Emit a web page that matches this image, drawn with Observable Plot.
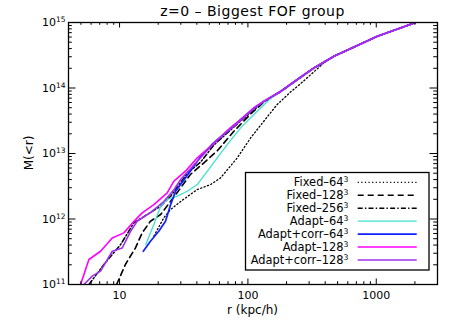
<!DOCTYPE html>
<html><head><meta charset="utf-8">
<script src="https://cdn.jsdelivr.net/npm/d3@7"></script>
<script src="https://cdn.jsdelivr.net/npm/@observablehq/plot@0.6"></script>
<style>html,body{margin:0;padding:0;background:#fff;}</style>
</head><body><div id="chart"></div>
<script>
// ---- text ----
const titleText = "z=0 – Biggest FOF group";
const xLabelText = "r (kpc/h)";
const yLabelText = "M(<r)";

// ---- ticks ----
const xMajor = [10, 100, 1000];
const xTickLabels = ["10", "100", "1000"];
const yMajor = [1e11, 1e12, 1e13, 1e14, 1e15];
const yTickLabels = ["10^11", "10^12", "10^13", "10^14", "10^15"];

// ---- series (r in kpc/h, M in Msun/h) ----
const fixed64R = [18.5, 22.1, 25.0, 29.9, 40.3, 51.2, 61.2, 82.6, 105, 133, 169, 215, 258, 327, 391, 468, 1020, 2000];
const fixed64M = [5.5e11, 1.04e12, 1.40e12, 1.85e12, 2.82e12, 3.36e12, 4.24e12, 8.57e12, 1.73e13, 3.11e13, 5.6e13, 8.7e13, 1.17e14, 1.77e14, 2.42e14, 3.04e14, 6.15e14, 9.9e14];

const fixed128R = [9.48, 11.1, 13.3, 15.0, 17.4, 20.9, 25.0, 29.9, 35.7, 45.4, 57.7, 78, 105, 133, 180, 258, 327, 468, 1020, 2000];
const fixed128M = [1.0e11, 2.02e11, 3.62e11, 6.14e11, 9.25e11, 1.17e12, 1.87e12, 2.98e12, 4.8e12, 7.2e12, 1.1e13, 2.2e13, 4.0e13, 6.1e13, 8.8e13, 1.46e14, 2.02e14, 3.05e14, 6.15e14, 9.9e14];

const fixed256R = [5.77, 7.55, 10.2, 12.9, 16.4, 20.9, 25.0, 33.7, 42.8, 54.3, 88, 133, 180, 258, 327, 468, 1020, 2000];
const fixed256M = [1.0e11, 2.02e11, 4.08e11, 8.71e11, 1.17e12, 1.57e12, 2.23e12, 5.0e12, 7.4e12, 1.35e13, 3.15e13, 6.2e13, 8.8e13, 1.46e14, 2.02e14, 3.05e14, 6.15e14, 9.9e14];

const adapt64R = [16.0, 18.5, 20.9, 23.5, 28.2, 33.7, 40.3, 48.3, 57.7, 69, 87.7, 118, 150, 180, 258, 327, 468, 1020, 2000];
const adapt64M = [4.08e11, 8.24e11, 1.57e12, 1.99e12, 2.23e12, 2.65e12, 3.36e12, 5.37e12, 8.57e12, 1.37e13, 2.46e13, 4.42e13, 6.9e13, 8.8e13, 1.46e14, 2.02e14, 3.05e14, 6.15e14, 9.9e14];

const adaptCorr64R = [15.3, 17.4, 20.2, 22.8, 25.0, 27.3, 32.6, 42, 53, 78, 111, 133, 180, 258, 327, 468, 1020, 2000];
const adaptCorr64M = [3.22e11, 4.58e11, 6.51e11, 9.25e11, 1.66e12, 2.65e12, 4.24e12, 8.5e12, 1.4e13, 2.7e13, 4.9e13, 6.25e13, 8.9e13, 1.47e14, 2.03e14, 3.06e14, 6.18e14, 9.9e14];

const adapt128R = [4.97, 5.77, 7.11, 8.77, 10.8, 12.6, 15.0, 18.5, 23.5, 26.5, 32.6, 40.3, 55, 73, 88, 111, 133, 180, 258, 327, 468, 1020, 2000];
const adapt128M = [1.0e11, 2.41e11, 3.22e11, 5.14e11, 6.14e11, 8.71e11, 1.24e12, 1.66e12, 2.5e12, 3.78e12, 5.37e12, 8.6e12, 1.45e13, 2.46e13, 3.3e13, 4.97e13, 6.3e13, 8.9e13, 1.47e14, 2.03e14, 3.06e14, 6.18e14, 9.9e14];

const adaptCorr128R = [5.27, 6.12, 7.11, 8.77, 10.5, 12.2, 13.7, 17.4, 22.1, 26.5, 29.9, 40.3, 54.3, 88, 111, 133, 180, 258, 327, 468, 1020, 2000];
const adaptCorr128M = [1.0e11, 1.34e11, 1.6e11, 3.22e11, 3.62e11, 6.51e11, 9.25e11, 1.25e12, 1.85e12, 2.8e12, 4.0e12, 7.6e12, 1.45e13, 3.2e13, 4.85e13, 6.2e13, 8.8e13, 1.46e14, 2.02e14, 3.05e14, 6.15e14, 9.9e14];

const seriesNames = ["Fixed–64^3", "Fixed–128^3", "Fixed–256^3", "Adapt–64^3", "Adapt+corr–64^3", "Adapt–128^3", "Adapt+corr–128^3"];

const series = [
  {name: seriesNames[0], r: fixed64R, M: fixed64M, color: "#000", dash: "1.2,2.4", w: 1.3},
  {name: seriesNames[1], r: fixed128R, M: fixed128M, color: "#000", dash: "6,4", w: 1.6},
  {name: seriesNames[2], r: fixed256R, M: fixed256M, color: "#000", dash: "5,2.2,1.4,2.2", w: 1.5},
  {name: seriesNames[3], r: adapt64R, M: adapt64M, color: "#40e0d0", dash: null, w: 1.3},
  {name: seriesNames[4], r: adaptCorr64R, M: adaptCorr64M, color: "#1020ff", dash: null, w: 1.7},
  {name: seriesNames[5], r: adapt128R, M: adapt128M, color: "#ff00ff", dash: null, w: 1.6},
  {name: seriesNames[6], r: adaptCorr128R, M: adaptCorr128M, color: "#a030f0", dash: null, w: 1.6}
];

// minor ticks
const xMinor = [];
for (const d of [1, 10, 100, 1000]) for (let k = 2; k <= 9; k++) { const v = d * k; if (v > 4 && v < 3000 && !xMajor.includes(v)) xMinor.push(v); }
const yMinor = [];
for (const d of [1e11, 1e12, 1e13, 1e14]) for (let k = 2; k <= 9; k++) yMinor.push(d * k);

const W = 458, H = 327, mL = 68, mR = 21, mT = 22, mB = 43;
const fw = W - mL - mR, fh = H - mT - mB;
const xMaj = 5.5, xMin = 2.8, yMaj = 7.5, yMin = 3.8;

const lineMarks = series.map(s => Plot.line(s.r.map((r, i) => ({r, M: s.M[i]})), {
  x: "r", y: "M", stroke: s.color, strokeWidth: s.w, strokeDasharray: s.dash, clip: true
}));

const svg = Plot.plot({
  width: W, height: H,
  marginLeft: mL, marginRight: mR, marginTop: mT, marginBottom: mB,
  x: {type: "log", domain: [4, 3000]},
  y: {type: "log", domain: [1e11, 1e15]},
  style: {fontFamily: "DejaVu Sans", fontSize: "11px", background: "white", color: "black", overflow: "visible"},
  marks: [
    Plot.axisX(xMajor, {tickSize: 0, tickPadding: 7, tickFormat: d => xTickLabels[xMajor.indexOf(d)], label: null, fill: "black"}),
    Plot.axisY(yMajor, {tickSize: 0, tickPadding: 3, tickFormat: d => yTickLabels[yMajor.indexOf(d)], label: null, fill: "black"}),
    ...lineMarks,
    Plot.tickX(xMajor, {x: d => d, insetTop: fh - xMaj, stroke: "black"}),
    Plot.tickX(xMajor, {x: d => d, insetBottom: fh - xMaj, stroke: "black"}),
    Plot.tickX(xMinor, {x: d => d, insetTop: fh - xMin, stroke: "black"}),
    Plot.tickX(xMinor, {x: d => d, insetBottom: fh - xMin, stroke: "black"}),
    Plot.tickY(yMajor, {y: d => d, insetRight: fw - yMaj, stroke: "black"}),
    Plot.tickY(yMajor, {y: d => d, insetLeft: fw - yMaj, stroke: "black"}),
    Plot.tickY(yMinor, {y: d => d, insetRight: fw - yMin, stroke: "black"}),
    Plot.tickY(yMinor, {y: d => d, insetLeft: fw - yMin, stroke: "black"}),
    Plot.frame({stroke: "black", strokeWidth: 1.3})
  ]
});

const sv = d3.select(svg);

function supify(sel) {
  sel.each(function () {
    const t = this.textContent;
    const m = t.match(/^(.*)\^(\d+)$/);
    if (!m) return;
    const el = d3.select(this);
    el.text(null);
    el.append("tspan").text(m[1]);
    el.append("tspan").attr("dy", "-0.5em").attr("font-size", "0.68em").text(m[2]);
  });
}
supify(sv.selectAll("text"));

// title & axis labels
sv.append("text").attr("x", mL + fw / 2).attr("y", 16).attr("text-anchor", "middle")
  .attr("font-size", 14).attr("letter-spacing", "0.5px").attr("fill", "black").text(titleText);
sv.append("text").attr("x", mL + fw / 2).attr("y", 314).attr("text-anchor", "middle")
  .attr("font-size", 12).attr("fill", "black").text(xLabelText);
sv.append("text").attr("transform", `translate(33,${mT + fh / 2}) rotate(-90)`).attr("text-anchor", "middle")
  .attr("font-size", 12).attr("fill", "black").text(yLabelText);

// legend
const lg = sv.append("g").attr("font-family", "DejaVu Sans").attr("font-size", 11.4);
lg.append("rect").attr("x", 245.5).attr("y", 172.5).attr("width", 183.5).attr("height", 97.5)
  .attr("fill", "white").attr("stroke", "black").attr("stroke-width", 1.3);
series.forEach((s, i) => {
  const cy = 182.3 + i * 12.95;
  const t = lg.append("text").attr("x", 348.5).attr("y", cy + 4).attr("text-anchor", "end").attr("fill", "black").text(s.name);
  supify(t);
  lg.append("line").attr("x1", 357.7).attr("x2", 416.7).attr("y1", cy).attr("y2", cy)
    .attr("stroke", s.color).attr("stroke-width", s.w).attr("stroke-dasharray", s.dash);
});

document.getElementById("chart").appendChild(svg);
</script>
</body></html>
